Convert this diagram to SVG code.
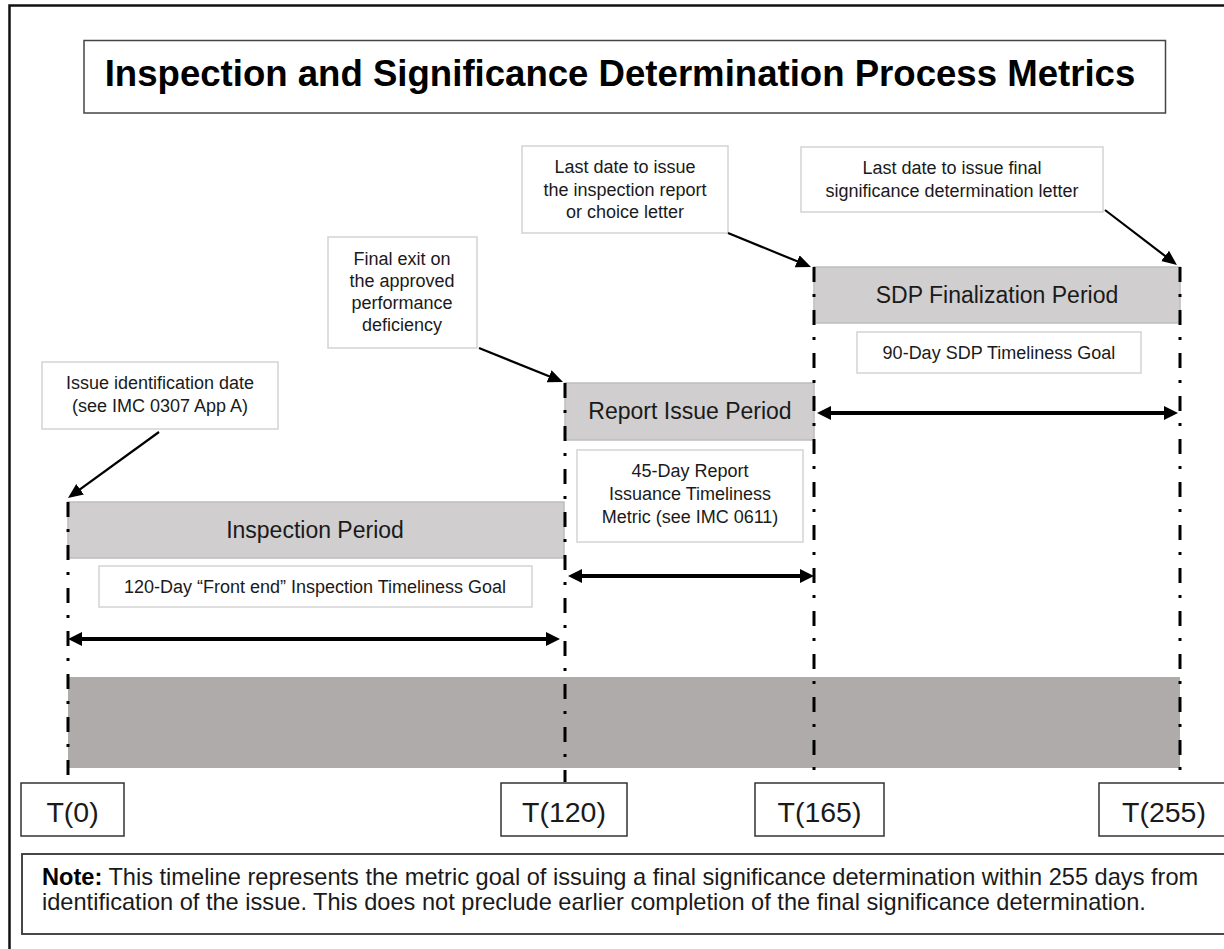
<svg xmlns="http://www.w3.org/2000/svg" width="1224" height="949" viewBox="0 0 1224 949">
  <style>
    text { font-family: "Liberation Sans", Arial, sans-serif; fill: #1a1a1a; }
    .title { font-size: 36.6px; font-weight: bold; fill: #000; }
    .small { font-size: 18px; }
    .note { font-size: 23.6px; }
    .period { font-size: 23px; }
    .tlabel { font-size: 28.5px; }
    .callout { fill: #fff; stroke: #d3d3d3; stroke-width: 1.5; }
    .bar { fill: #d0cece; stroke: #bfbdbd; stroke-width: 1.5; }
    .tbox { fill: #fff; stroke: #333; stroke-width: 1.5; }
    .vline { stroke: #000; stroke-width: 3; stroke-dasharray: 15 12 3 13; fill: none; }
    .pointer { stroke: #000; stroke-width: 2.2; fill: none; }
    .span { stroke: #000; stroke-width: 4; fill: none; }
  </style>
  <defs>
    <marker id="ptr" markerUnits="userSpaceOnUse" markerWidth="16" markerHeight="14" refX="10" refY="6.5" orient="auto">
      <path d="M0,0 L15,6.5 L0,13 z" fill="#000"/>
    </marker>
    <marker id="spanHead" markerUnits="userSpaceOnUse" markerWidth="16" markerHeight="16" refX="8" refY="7" orient="auto-start-reverse">
      <path d="M0,0 L14,7 L0,14 z" fill="#000"/>
    </marker>
  </defs>

  <rect x="0" y="0" width="1224" height="949" fill="#fff"/>
  <!-- outer frame (cut at right and bottom) -->
  <rect x="9.5" y="5.5" width="1300" height="1000" fill="none" stroke="#111" stroke-width="2.5"/>

  <g id="title">
    <rect x="84" y="40.5" width="1081.5" height="72.5" fill="#fff" stroke="#444" stroke-width="1.5"/>
    <text class="title" x="620" y="86" text-anchor="middle">Inspection and Significance Determination Process Metrics</text>
  </g>

  <g id="timeline-bar">
    <rect x="68" y="677" width="1112" height="91" fill="#afabab"/>
  </g>

  <g id="inspection-period">
    <rect class="bar" x="68" y="502" width="496" height="56"/>
    <text class="period" x="315" y="538" text-anchor="middle">Inspection Period</text>
  </g>
  <g id="report-issue-period">
    <rect class="bar" x="565" y="383" width="249" height="57"/>
    <text class="period" x="690" y="419" text-anchor="middle">Report Issue Period</text>
  </g>
  <g id="sdp-finalization-period">
    <rect class="bar" x="814" y="267" width="366" height="56"/>
    <text class="period" x="997" y="303" text-anchor="middle">SDP Finalization Period</text>
  </g>

  <g id="goal-120">
    <rect class="callout" x="99" y="566" width="433" height="41"/>
    <text class="small" x="315" y="593" text-anchor="middle">120-Day “Front end” Inspection Timeliness Goal</text>
  </g>
  <g id="goal-45">
    <rect class="callout" x="577" y="450" width="226" height="92"/>
    <text class="small" x="690" y="477" text-anchor="middle">45-Day Report</text>
    <text class="small" x="690" y="500" text-anchor="middle">Issuance Timeliness</text>
    <text class="small" x="690" y="523" text-anchor="middle">Metric (see IMC 0611)</text>
  </g>
  <g id="goal-90">
    <rect class="callout" x="857" y="332" width="284" height="41"/>
    <text class="small" x="999" y="359" text-anchor="middle">90-Day SDP Timeliness Goal</text>
  </g>

  <g id="callout-issue-id">
    <rect class="callout" x="42" y="362" width="236" height="67"/>
    <text class="small" x="160" y="389" text-anchor="middle">Issue identification date</text>
    <text class="small" x="160" y="412" text-anchor="middle">(see IMC 0307 App A)</text>
  </g>
  <g id="callout-final-exit">
    <rect class="callout" x="328" y="237" width="149" height="111"/>
    <text class="small" x="402" y="265" text-anchor="middle">Final exit on</text>
    <text class="small" x="402" y="287" text-anchor="middle">the approved</text>
    <text class="small" x="402" y="309" text-anchor="middle">performance</text>
    <text class="small" x="402" y="331" text-anchor="middle">deficiency</text>
  </g>
  <g id="callout-report-date">
    <rect class="callout" x="522" y="146" width="206" height="87"/>
    <text class="small" x="625" y="173" text-anchor="middle">Last date to issue</text>
    <text class="small" x="625" y="196" text-anchor="middle">the inspection report</text>
    <text class="small" x="625" y="218" text-anchor="middle">or choice letter</text>
  </g>
  <g id="callout-final-letter">
    <rect class="callout" x="801" y="147" width="302" height="65"/>
    <text class="small" x="952" y="174" text-anchor="middle">Last date to issue final</text>
    <text class="small" x="952" y="197" text-anchor="middle">significance determination letter</text>
  </g>

  <g id="connectors">
    <line class="vline" x1="68" y1="502" x2="68" y2="782"/>
    <line class="vline" x1="565" y1="383" x2="565" y2="782"/>
    <line class="vline" x1="814" y1="267" x2="814" y2="782"/>
    <line class="vline" x1="1180" y1="267" x2="1180" y2="782"/>

    <line class="pointer" x1="159" y1="432" x2="72" y2="495.1" marker-end="url(#ptr)"/>
    <line class="pointer" x1="479" y1="348" x2="558.4" y2="380.1" marker-end="url(#ptr)"/>
    <line class="pointer" x1="728" y1="233" x2="806.4" y2="265.1" marker-end="url(#ptr)"/>
    <line class="pointer" x1="1105" y1="210" x2="1173" y2="262" marker-end="url(#ptr)"/>

    <line class="span" x1="74" y1="639" x2="554" y2="639" marker-start="url(#spanHead)" marker-end="url(#spanHead)"/>
    <line class="span" x1="574" y1="576" x2="808" y2="576" marker-start="url(#spanHead)" marker-end="url(#spanHead)"/>
    <line class="span" x1="823" y1="413" x2="1172" y2="413" marker-start="url(#spanHead)" marker-end="url(#spanHead)"/>
  </g>

  <g id="t0">
    <rect class="tbox" x="21" y="783" width="103" height="53"/>
    <text class="tlabel" x="72.5" y="822" text-anchor="middle">T(0)</text>
  </g>
  <g id="t120">
    <rect class="tbox" x="501" y="783" width="126" height="53"/>
    <text class="tlabel" x="564" y="822" text-anchor="middle">T(120)</text>
  </g>
  <g id="t165">
    <rect class="tbox" x="755" y="783" width="129" height="53"/>
    <text class="tlabel" x="819.5" y="822" text-anchor="middle">T(165)</text>
  </g>
  <g id="t255">
    <rect class="tbox" x="1099" y="783" width="130" height="53"/>
    <text class="tlabel" x="1164" y="822" text-anchor="middle">T(255)</text>
  </g>

  <g id="note">
    <rect x="22" y="854" width="1207" height="80" fill="#fff" stroke="#333" stroke-width="1.8"/>
    <text class="note" x="42" y="885"><tspan font-weight="bold" fill="#000">Note:</tspan> This timeline represents the metric goal of issuing a final significance determination within 255 days from</text>
    <text class="note" x="42" y="910">identification of the issue. This does not preclude earlier completion of the final significance determination.</text>
  </g>
</svg>
